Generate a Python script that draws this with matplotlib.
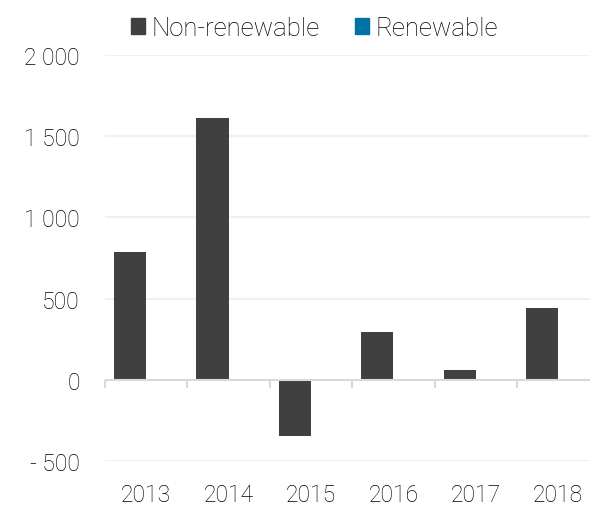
import matplotlib
matplotlib.use("Agg")
import matplotlib.pyplot as plt
from matplotlib.ticker import FuncFormatter
from matplotlib.patches import Patch
import numpy as np

# data
years = ["2013", "2014", "2015", "2016", "2017", "2018"]
non_renewable = [785, 1610, -345, 295, 60, 443]
renewable = [0, 0, 0, 0, 0, 0]
y_ticks = [-500, 0, 500, 1000, 1500, 2000]

dark = "#404040"
blue = "#0072a3"
txt = "#000000"

plt.rcParams["font.family"] = ["Roboto", "DejaVu Sans"]
plt.rcParams["font.weight"] = "light"

fig = plt.figure(figsize=(5.9, 5.06), dpi=100)
ax = fig.add_axes([105 / 590, 44 / 506, 485 / 590, 406 / 506])

x = np.arange(len(years))
w = 0.39
ax.bar(x - w / 2, non_renewable, w, color=dark, zorder=3)
ax.bar(x + w / 2, renewable, w, color=blue, zorder=3)

ax.set_xlim(-0.5, -0.5 + 485 / 82.4)
ax.set_ylim(-500, 2000)

# faint gridlines, zero line drawn separately
ax.set_yticks(y_ticks)
for v in y_ticks:
    if v != 0:
        ax.axhline(v, color="#f0f0f0", lw=1.5, zorder=1)
ax.axhline(0, color="#d9d9d9", lw=1.5, zorder=4)

def fmt(v, pos):
    s = "{:,}".format(int(abs(v))).replace(",", " ")
    return "- " + s if v < 0 else s

ax.yaxis.set_major_formatter(FuncFormatter(fmt))
ax.tick_params(axis="y", length=0, pad=18, labelsize=16.5, labelcolor=txt)

ax.set_xticks(x)
ax.set_xticklabels(years)
ax.tick_params(axis="x", length=0, pad=16, labelsize=16.5, labelcolor=txt)

for s in ax.spines.values():
    s.set_visible(False)

# tick marks on the zero line at category boundaries
sec = ax.secondary_xaxis(0.2)
sec.set_xticks(np.arange(len(years) + 1) - 0.5)
sec.set_xticklabels([])
sec.tick_params(axis="x", length=6, width=1.5, color="#d9d9d9", direction="out")
for s in sec.spines.values():
    s.set_visible(False)

handles = [Patch(color=dark, label="Non-renewable"), Patch(color=blue, label="Renewable")]
fig.legend(handles=handles, loc="upper center", bbox_to_anchor=(0.533, 1.012), ncol=2,
           frameon=False, fontsize=18.5, handlelength=0.55, handleheight=0.55,
           handletextpad=0.25, columnspacing=1.4, labelcolor=txt)

fig.savefig("out.png", dpi=100)
